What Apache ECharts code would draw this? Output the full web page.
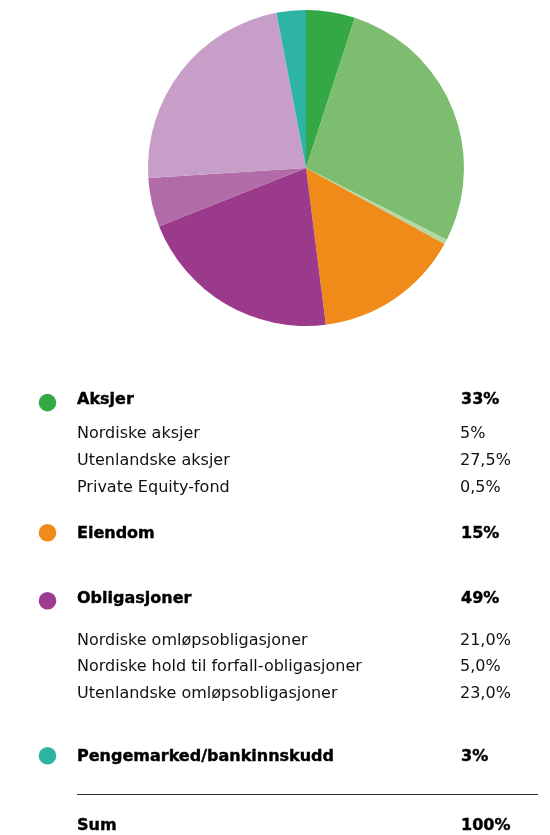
<!DOCTYPE html>
<html>
<head>
<meta charset="utf-8">
<script src="https://cdn.jsdelivr.net/npm/echarts@6/dist/echarts.min.js"></script>
<style>
  html, body { margin: 0; padding: 0; background: #fff; }
  #chart { width: 550px; height: 835px; }
</style>
</head>
<body>
<div id="chart"></div>
<script>
// pie slices, clockwise from 12 o'clock
var sliceNames = ['Nordiske aksjer', 'Utenlandske aksjer', 'Private Equity-fond', 'Eiendom',
  'Nordiske omløpsobligasjoner', 'Nordiske hold til forfall-obligasjoner',
  'Utenlandske omløpsobligasjoner', 'Pengemarked/bankinnskudd'];
var sliceValues = [5, 27.5, 0.5, 15, 21, 5, 23, 3];

// table
var groupNames = ['Aksjer', 'Eiendom', 'Obligasjoner', 'Pengemarked/bankinnskudd'];
var groupLabels = ['33%', '15%', '49%', '3%'];
var subNames = [
  ['Nordiske aksjer', 'Utenlandske aksjer', 'Private Equity-fond'],
  [],
  ['Nordiske omløpsobligasjoner', 'Nordiske hold til forfall-obligasjoner', 'Utenlandske omløpsobligasjoner'],
  []
];
var subLabels = [
  ['5%', '27,5%', '0,5%'],
  [],
  ['21,0%', '5,0%', '23,0%'],
  []
];
var sumName = 'Sum';
var sumLabel = '100%';

// styling
var sliceColors = ['#33a845', '#7dbd6f', '#b3d9a3', '#f08b19', '#9b3a8b', '#b16ba6', '#c79ec8', '#2eb4a3'];
var groupColors = ['#33a845', '#f08b19', '#9c3b8f', '#2eb4a3'];
var groupBaseline = [405.5, 539.3, 604.5, 762.5];   // text baseline of heading rows
var dotY = [402.6, 532.7, 600.7, 755.7];
var subFirstGap = [34, 0, 41.5, 0];                 // heading -> first sub row
var subStep = 26.7;
var textX = 77, valueX = 461, dotX = 47.5;
var midShift = 5.5; // baseline -> middle of caps

function txt(x, baseline, s, bold, color) {
  var st = {
    text: s,
    font: (bold ? 'bold ' : '') + '16px "DejaVu Sans"',
    fill: color,
    verticalAlign: 'middle'
  };
  if (bold) { st.stroke = color; st.lineWidth = 0.4; }
  return { type: 'text', x: x, y: baseline - midShift, style: st };
}

var graphics = [];
groupNames.forEach(function (g, i) {
  var y = groupBaseline[i];
  graphics.push({
    type: 'circle', shape: { cx: dotX, cy: dotY[i], r: 8.8 },
    style: { fill: groupColors[i] }
  });
  graphics.push(txt(textX, y, g, true, '#000'));
  graphics.push(txt(valueX, y, groupLabels[i], true, '#000'));
  subNames[i].forEach(function (s, j) {
    var sy = y + subFirstGap[i] + j * subStep;
    graphics.push(txt(textX, sy, s, false, '#111'));
    graphics.push(txt(valueX - 1, sy, subLabels[i][j], false, '#111'));
  });
});
graphics.push({
  type: 'line', shape: { x1: 77, y1: 794.5, x2: 538, y2: 794.5 },
  style: { stroke: '#333', lineWidth: 1 }
});
graphics.push(txt(textX, 831.5, sumName, true, '#000'));
graphics.push(txt(valueX, 831.5, sumLabel, true, '#000'));

var myChart = echarts.init(document.getElementById('chart'), null, { renderer: 'canvas' });
myChart.setOption({
  animation: false,
  backgroundColor: '#fff',
  color: sliceColors,
  series: [{
    type: 'pie',
    center: [306, 168],
    radius: [0, 158],
    startAngle: 90,
    clockwise: true,
    silent: true,
    label: { show: false },
    labelLine: { show: false },
    itemStyle: { borderWidth: 0 },
    data: sliceNames.map(function (n, i) {
      return { name: n, value: sliceValues[i] };
    })
  }],
  graphic: graphics
});
</script>
</body>
</html>
